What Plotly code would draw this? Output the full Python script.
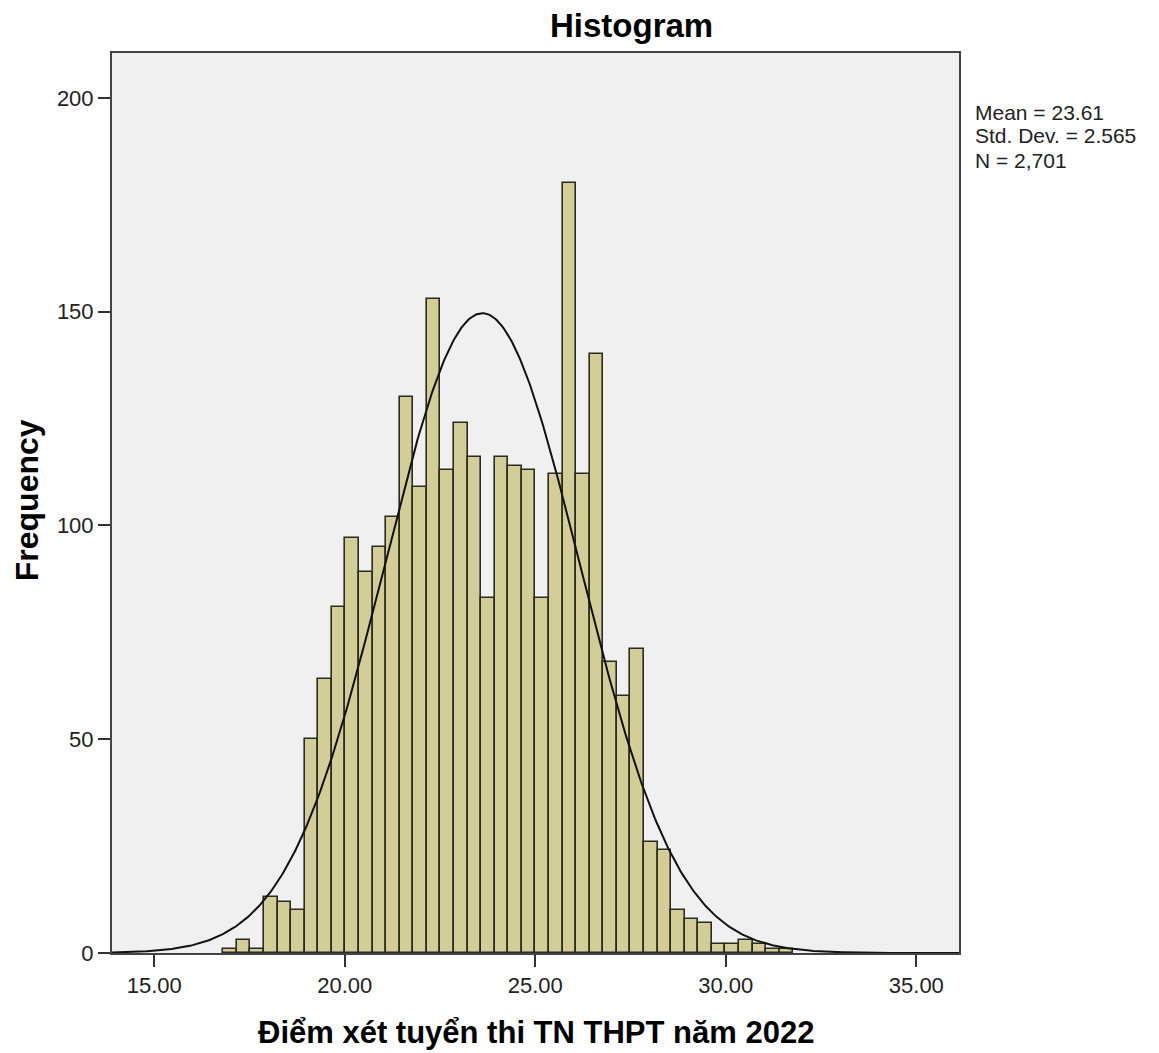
import numpy as np
import plotly.graph_objects as go

# Frequency histogram of admission scores (42 equal-width bins)
bin_start = 16.81
bin_width = 0.3562
counts = [1, 3, 1, 13, 12, 10, 50, 64, 81, 97, 89, 95, 102, 130, 109, 153,
          113, 124, 116, 83, 116, 114, 113, 83, 112, 180, 112, 140, 68, 60,
          71, 26, 24, 10, 8, 7, 2, 2, 3, 2, 1, 1]

# Summary statistics shown beside the chart
mean_val = 23.61
std_val = 2.565
n_val = 2701

x_ticks = [15, 20, 25, 30, 35]
x_tick_labels = ["15.00", "20.00", "25.00", "30.00", "35.00"]
y_ticks = [0, 50, 100, 150, 200]

font_family = "Arial, Liberation Sans, sans-serif"

centers = bin_start + bin_width * (np.arange(len(counts)) + 0.5)

fig = go.Figure()
fig.add_trace(go.Bar(
    x=centers, y=counts, width=bin_width,
    marker=dict(color="#D3CE97", line=dict(color="#2b2b20", width=1.6)),
    hoverinfo="x+y", showlegend=False,
))

# Fitted normal curve scaled to counts per bin
x_min, x_max = 13.89, 36.12
xs = np.linspace(x_min, x_max, 600)
ys = n_val * bin_width / (std_val * np.sqrt(2 * np.pi)) * np.exp(-0.5 * ((xs - mean_val) / std_val) ** 2)
fig.add_trace(go.Scatter(x=xs, y=ys, mode="lines",
                         line=dict(color="#111111", width=2),
                         hoverinfo="skip", showlegend=False))

stats_lines = [f"Mean = {mean_val:.2f}", f"Std. Dev. = {std_val:.3f}", f"N = {n_val:,}"]
stats_y = [0.934, 0.908, 0.881]

annotations = [
    dict(text="<b>Histogram</b>", xref="paper", yref="paper",
         x=0.6133, y=1.031, xanchor="center", yanchor="middle",
         showarrow=False, font=dict(size=33, color="#000000")),
    dict(text="<b>Frequency</b>", xref="paper", yref="paper",
         x=-0.1004, y=0.503, xanchor="center", yanchor="middle",
         textangle=-90, showarrow=False, font=dict(size=32, color="#000000")),
    dict(text="<b>Điểm xét tuyển thi TN THPT năm 2022</b>", xref="paper", yref="paper",
         x=0.5, y=-0.0878, xanchor="center", yanchor="middle",
         showarrow=False, font=dict(size=31, color="#000000")),
]
for line, yy in zip(stats_lines, stats_y):
    annotations.append(dict(text=line, xref="paper", yref="paper", x=1.0165, y=yy,
                            xanchor="left", yanchor="middle", align="left",
                            showarrow=False, font=dict(size=21, color="#222222")))

fig.update_layout(
    width=1159, height=1053,
    margin=dict(l=112, r=200, t=53, b=100),
    paper_bgcolor="white", plot_bgcolor="#F0F0F0",
    bargap=0,
    font=dict(family=font_family, size=20, color="#222222"),
    xaxis=dict(range=[x_min, x_max], tickvals=x_ticks, ticktext=x_tick_labels,
               ticks="outside", ticklen=12, tickwidth=1.5, tickcolor="#333333",
               showline=True, linecolor="#444444", linewidth=2, mirror=True,
               showgrid=False, zeroline=False,
               tickfont=dict(size=22, color="#222222")),
    yaxis=dict(range=[0, 210.5], tickvals=y_ticks,
               ticks="outside", ticklen=12, tickwidth=1.5, tickcolor="#333333",
               showline=True, linecolor="#444444", linewidth=2, mirror=True,
               showgrid=False, zeroline=False,
               tickfont=dict(size=22, color="#222222")),
    annotations=annotations,
)

fig.write_html("out.html")
